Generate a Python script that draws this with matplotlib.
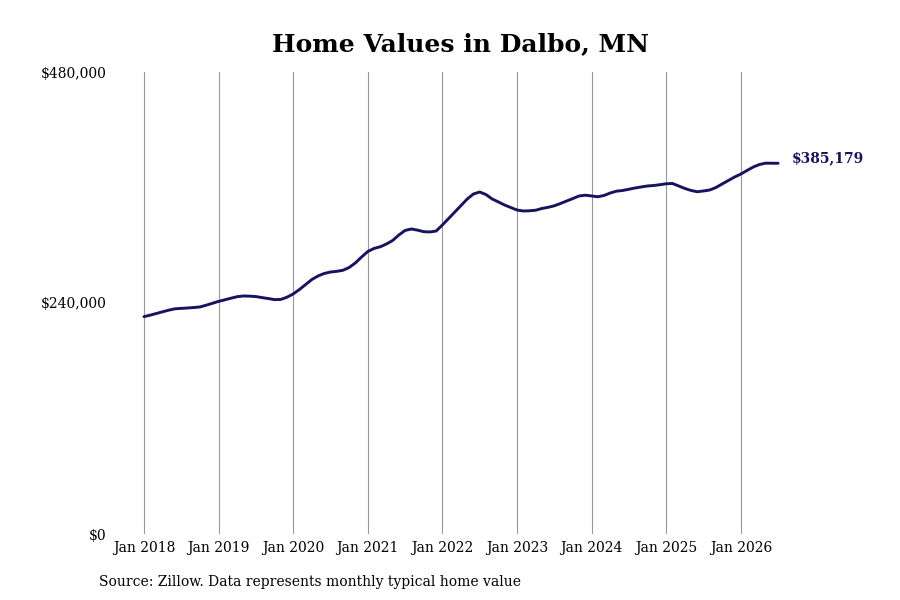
import numpy as np
import matplotlib
matplotlib.use("Agg")
import matplotlib.pyplot as plt

# monthly typical home value, Jan 2018 .. Jul 2026
values = [
    225800, 227400, 229100, 230900, 232600, 234000, 234400, 234800, 235300, 235900, 237700, 239700,
    241700, 243300, 245000, 246600, 247300, 247100, 246700, 245600, 244600, 243500, 243700, 246000,
    249400, 254000, 259200, 264400, 268100, 270700, 272200, 272900, 274000, 276900, 281600, 287800,
    293500, 296700, 298400, 301300, 305000, 310700, 315400, 316900, 315700, 314100, 313800, 314800,
    321100, 327800, 334600, 341300, 348100, 353300, 355300, 352700, 348100, 345000, 341800, 339200,
    336600, 335600, 335800, 336400, 338200, 339400, 341000, 343400, 346000, 348600, 351200, 352000,
    351200, 350400, 351700, 354300, 356200, 356900, 358200, 359500, 360600, 361600, 362100, 362900,
    363900, 364200, 361600, 359000, 356900, 355600, 356400, 357400, 360000, 363700, 367300, 370900,
    374000, 377700, 381300, 383900, 385300, 385200, 385179,
]
tick_years = list(range(2018, 2027))
tick_labels = [f"Jan {y}" for y in tick_years]
y_ticks = [0, 240000, 480000]
y_labels = ["$0", "$240,000", "$480,000"]
title = "Home Values in Dalbo, MN"
source = "Source: Zillow. Data represents monthly typical home value"

line_color = "#16135f"
plt.rcParams['font.family'] = ['DejaVu Serif']

months = np.arange(len(values))

fig = plt.figure(figsize=(9, 6), dpi=100)
ax = fig.add_axes([112 / 900, (600 - 534) / 600, 688 / 900, 462 / 600])

ax.plot(months, values, color=line_color, linewidth=2.1, solid_capstyle='round')

ax.set_xlim(-32 / 6.217, -32 / 6.217 + 688 / 6.217)
ax.set_ylim(0, 480000)

ax.set_xticks([12 * i for i in range(len(tick_years))])
ax.set_xticklabels(tick_labels, fontsize=10)
ax.set_yticks(y_ticks)
ax.set_yticklabels(y_labels, fontsize=10)
ax.tick_params(length=0, pad=4)
ax.tick_params(axis='x', pad=5)

ax.grid(axis='x', color='#999999', linewidth=0.8)
ax.grid(axis='y', visible=False)
for s in ax.spines.values():
    s.set_visible(False)

# end-of-series value label
ax.annotate(f"${values[-1]:,}", xy=(months[-1], values[-1]), xytext=(14, 5),
            textcoords='offset pixels', va='center', ha='left',
            fontsize=10, fontweight='bold', color=line_color)

fig.text(461 / 900, 1 - 44 / 600, title, ha='center', va='center', fontsize=18, fontweight='bold')
fig.text(99 / 900, 1 - 582 / 600, source, ha='left', va='center', fontsize=10)

fig.savefig("out.png", dpi=100)
